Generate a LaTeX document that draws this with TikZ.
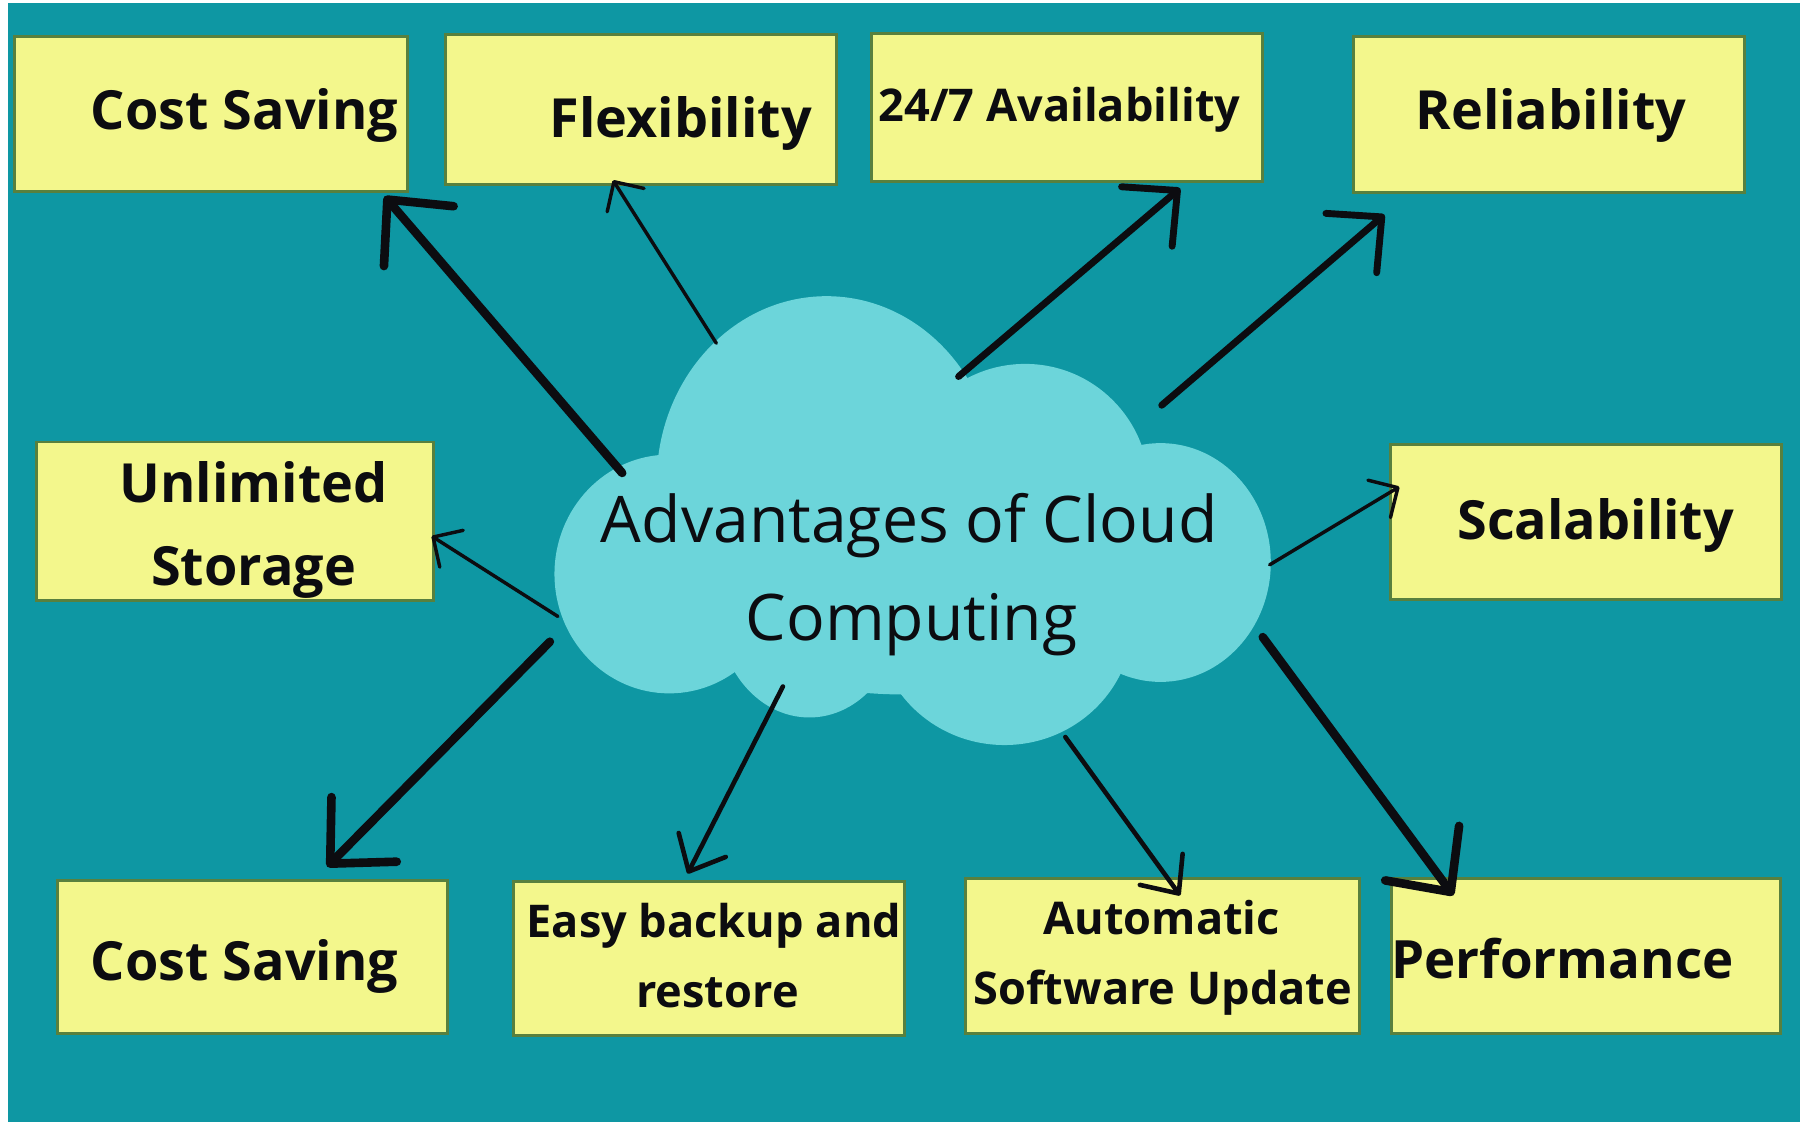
\documentclass[tikz,border=0pt]{standalone}
\usepackage{fontspec}
\setmainfont{Open Sans}
\usetikzlibrary{arrows.meta}
\definecolor{bgteal}{RGB}{14,151,163}
\definecolor{cloudc}{RGB}{108,213,218}
\definecolor{notey}{RGB}{243,247,140}
\definecolor{noteedge}{RGB}{88,128,62}
\definecolor{inkc}{RGB}{12,12,16}
\begin{document}
\begin{tikzpicture}[x=1pt,y=-1pt,
  note/.style={draw=noteedge, line width=2.5pt, fill=notey, inner sep=0pt},
  lbl/.style={anchor=base, inner sep=0pt, text=inkc, font=\bfseries\fontsize{47}{53}\selectfont},
  lblsm/.style={lbl, font=\bfseries\fontsize{39.3}{45}\selectfont},
  cloudtxt/.style={anchor=base, inner sep=0pt, text=inkc, font=\fontsize{56}{63}\selectfont},
  lobe/.style={fill=cloudc},
  heavy/.style={draw=inkc, line width=7.5pt, line cap=round, -{Straight Barb[length=42pt,width=80pt,round]}},
  boldarr/.style={draw=inkc, line width=6pt, line cap=round, -{Straight Barb[length=35pt,width=68pt,round]}},
  medarr/.style={draw=inkc, line width=4pt, line cap=round, -{Straight Barb[length=26pt,width=46pt,round]}},
  lightarr/.style={draw=inkc, line width=3pt, line cap=round, -{Straight Barb[length=19pt,width=38pt,round]}}
]
\useasboundingbox (0,0) rectangle (1568,977);
\fill[white] (0,0) rectangle (1568,977);
\fill[bgteal] (7,3) rectangle (1568,977);

% cloud
\fill[lobe] (583,500) ellipse [x radius=100, y radius=104];
\fill[lobe] (720,420) ellipse [x radius=148, y radius=162];
\fill[lobe] (893,425) ellipse [x radius=108, y radius=108];
\fill[lobe] (1011,490) ellipse [x radius=96, y radius=104];
\fill[lobe] (875,540) ellipse [x radius=112, y radius=109];
\fill[lobe] (705,530) ellipse [x radius=80, y radius=95];
\fill[lobe] (790,480) ellipse [x radius=240, y radius=125];
\node[cloudtxt] (cl1) at (792,473) {Advantages of Cloud};
\node[cloudtxt] (cl2) at (794,558) {Computing};

% boxes
\node[note, minimum width=342, minimum height=135] (b1) at (184,99.5) {};
\node[note, minimum width=341, minimum height=131] (b2) at (558.5,95.5) {};
\node[note, minimum width=341, minimum height=129] (b3) at (929.5,93.5) {};
\node[note, minimum width=341, minimum height=136] (b4) at (1349.5,100) {};
\node[note, minimum width=346, minimum height=138] (b5) at (205,454) {};
\node[note, minimum width=341, minimum height=135] (b6) at (1381.5,455) {};
\node[note, minimum width=340, minimum height=133] (b7) at (220,833.5) {};
\node[note, minimum width=341, minimum height=134] (b8) at (617.5,835) {};
\node[note, minimum width=343, minimum height=135] (b9) at (1012.5,832.5) {};
\node[note, minimum width=339, minimum height=135] (b10) at (1381.5,832.5) {};

% labels
\node[lbl] (t1) at (213,113) {Cost Saving};
\node[lbl] (t2) at (593,120) {Flexibility};
\node[lblsm] (t3) at (923,106) {24/7 Availability};
\node[lbl] (t4) at (1351,113) {Reliability};
\node[lbl] (t5a) at (221,438) {Unlimited};
\node[lbl] (t5b) at (221,510) {Storage};
\node[lbl] (t6) at (1390,470) {Scalability};
\node[lbl] (t7) at (213,854) {Cost Saving};
\node[lblsm] (t8a) at (622,817) {Easy backup and};
\node[lblsm] (t8b) at (625,878) {restore};
\node[lblsm] (t9a) at (1012,814) {Automatic};
\node[lblsm] (t9b) at (1013,875) {Software Update};
\node[lbl, font=\bfseries\fontsize{46}{52}\selectfont] (t10) at (1361,852) {Performance};

% connector ends
\coordinate (s1) at (542,412);  \coordinate (e1) at (335,171);
\coordinate (s2) at (624,299);  \coordinate (e2) at (534,157);
\coordinate (s3) at (835,328);  \coordinate (e3) at (1028,164);
\coordinate (s4) at (1012,353); \coordinate (e4) at (1206,187);
\coordinate (s5) at (486,537);  \coordinate (e5) at (376,467);
\coordinate (s6) at (1106,492); \coordinate (e6) at (1219,424);
\coordinate (s7) at (479,559);  \coordinate (e7) at (285,755);
\coordinate (s8) at (682,598);  \coordinate (e8) at (599,761);
\coordinate (s9) at (928,642);  \coordinate (e9) at (1028,780);
\coordinate (s10) at (1100,555); \coordinate (e10) at (1266,780);

\draw[heavy] (s1) -- (e1);
\draw[lightarr] (s2) -- (e2);
\draw[boldarr] (s3) -- (e3);
\draw[boldarr] (s4) -- (e4);
\draw[lightarr] (s5) -- (e5);
\draw[lightarr] (s6) -- (e6);
\draw[heavy] (s7) -- (e7);
\draw[medarr] (s8) -- (e8);
\draw[medarr] (s9) -- (e9);
\draw[heavy] (s10) -- (e10);
\end{tikzpicture}
\end{document}
